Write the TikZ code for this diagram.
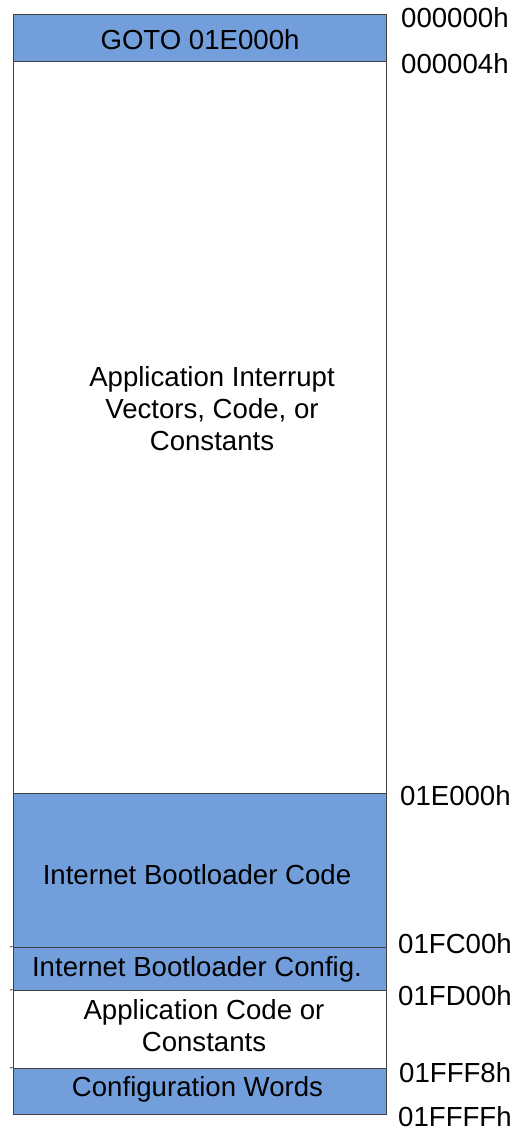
\documentclass[tikz,border=0pt]{standalone}
\usepackage{fontspec}
\setmainfont{Liberation Sans}
\definecolor{memblue}{RGB}{114,159,220}
\definecolor{memline}{RGB}{64,64,64}
\begin{document}
\begin{tikzpicture}[x=1pt,y=-1pt,
  region/.style={draw=memline, line width=0.9pt, inner sep=0pt, minimum width=373pt},
  blue/.style={region, fill=memblue},
  white/.style={region, fill=white},
  txt/.style={font=\fontsize{27.6}{32}\selectfont, align=center, inner sep=0pt},
  addr/.style={font=\fontsize{27.6}{32}\selectfont, anchor=west, inner sep=0pt},
  stub/.style={draw=memline, line width=0.9pt}]
\useasboundingbox (0,0) rectangle (514,1131);
% regions
\node[blue, minimum height=47pt] (goto) at (199.5,37.5) {};
\node[white, minimum height=732pt] (app) at (199.5,427) {};
\node[blue, minimum height=154pt] (blcode) at (199.5,870) {};
\node[blue, minimum height=43pt] (blcfg) at (199.5,968.5) {};
\node[white, minimum height=78pt] (appc) at (199.5,1029) {};
\node[blue, minimum height=46pt] (cfgw) at (199.5,1091) {};
% left stubs
\coordinate (s1) at (10,947);
\coordinate (s2) at (10,990);
\coordinate (s3) at (10,1068);
\draw[stub] (s1) -- (blcfg.north west);
\draw[stub] (s2) -- (appc.north west);
\draw[stub] (s3) -- (cfgw.north west);
% texts
\node[txt] (t1) at (200,40) {GOTO 01E000h};
\node[txt] (t2) at (212,409) {Application Interrupt\\Vectors, Code, or\\Constants};
\node[txt] (t3) at (197,875) {Internet Bootloader Code};
\node[txt] (t4) at (197,969) {Internet Bootloader Config.};
\node[txt] (t5) at (204,1026) {Application Code or\\Constants};
\node[txt] (t6) at (197.5,1089) {Configuration Words};
% addresses
\node[addr] (a1) at (401,18) {000000h};
\node[addr] (a2) at (401,64) {000004h};
\node[addr] (a3) at (400,796) {01E000h};
\node[addr] (a4) at (398,944) {01FC00h};
\node[addr] (a5) at (398,996) {01FD00h};
\node[addr] (a6) at (399,1073) {01FFF8h};
\node[addr] (a7) at (398,1117) {01FFFFh};
\end{tikzpicture}
\end{document}
